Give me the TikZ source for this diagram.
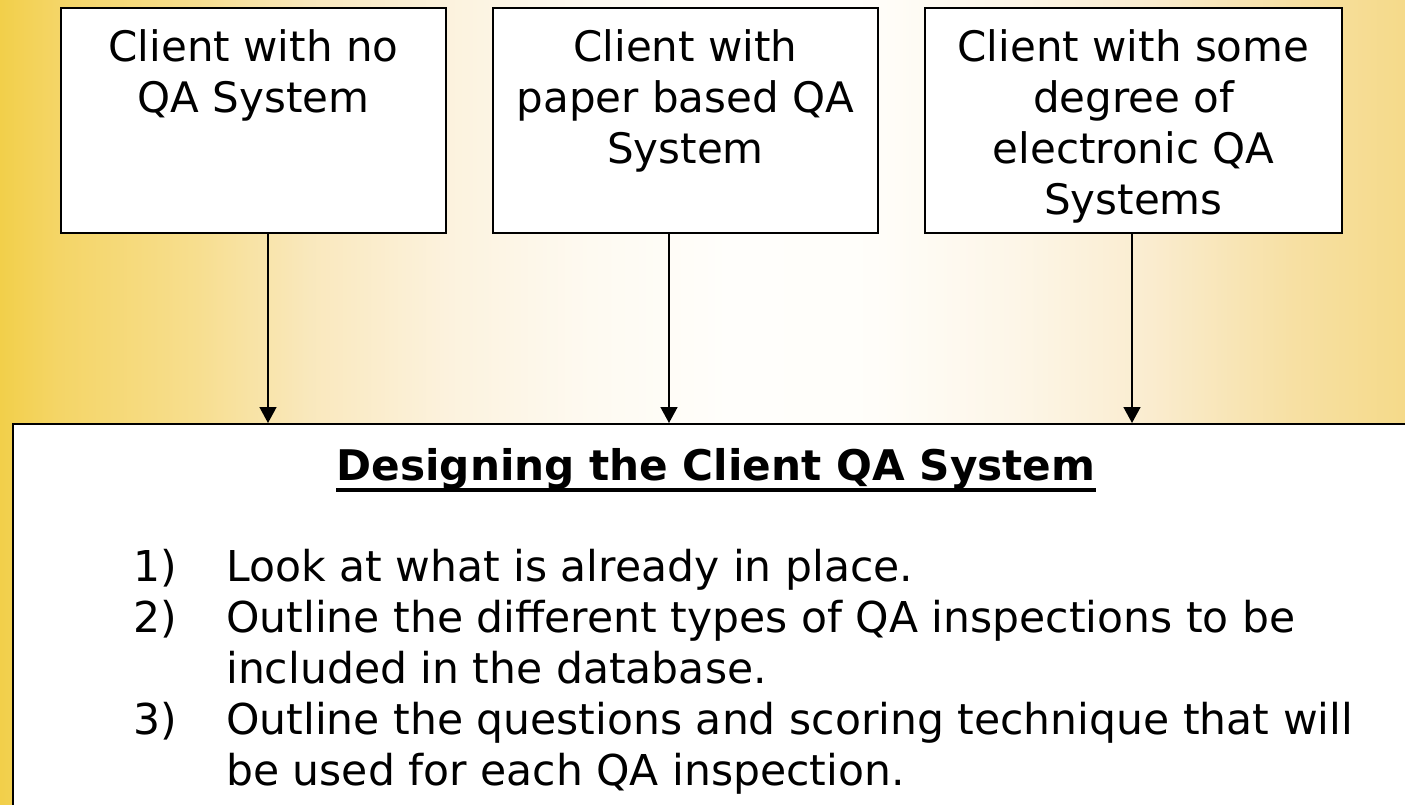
\documentclass[tikz,border=0pt]{standalone}
\usepackage{fontspec}
\setmainfont{DejaVu Sans}
\usetikzlibrary{arrows.meta}
\pgfdeclarehorizontalshading{bgshade}{100bp}{
  rgb(0bp)=(0.949,0.812,0.290);
  rgb(25bp)=(0.949,0.812,0.290);
  rgb(27bp)=(0.957,0.835,0.400);
  rgb(32bp)=(0.969,0.871,0.560);
  rgb(36bp)=(0.978,0.910,0.740);
  rgb(41bp)=(0.988,0.950,0.870);
  rgb(46bp)=(0.996,0.980,0.945);
  rgb(51bp)=(1,0.996,0.985);
  rgb(56bp)=(1,0.994,0.978);
  rgb(61bp)=(0.992,0.965,0.910);
  rgb(66bp)=(0.980,0.925,0.810);
  rgb(71bp)=(0.968,0.878,0.640);
  rgb(75bp)=(0.961,0.855,0.540);
  rgb(100bp)=(0.961,0.855,0.540)}
\tikzset{
  x=1pt,y=-1pt,
  box/.style={draw=black, line width=2pt, fill=white, inner sep=0pt, anchor=north west},
  boxtext/.style={anchor=north, align=center, font=\fontsize{42}{51}\selectfont, inner sep=0pt},
  bodytext/.style={anchor=base west, inner sep=0pt, font=\fontsize{42.5}{51}\selectfont},
  conn/.style={-{Triangle[width=17pt,length=16pt]}, line width=1.5pt},
}
\begin{document}
\begin{tikzpicture}
\useasboundingbox (0,0) rectangle (1405,804);
\shade[shading=bgshade] (0,0) rectangle (1405,804);
% top boxes
\node[box, minimum width=385pt, minimum height=225pt] (b1) at (60,7) {};
\node[box, minimum width=385pt, minimum height=225pt] (b2) at (492,7) {};
\node[box, minimum width=417pt, minimum height=225pt] (b3) at (924,7) {};
\node[boxtext] (t1) at ([yshift=-22pt]b1.north) {Client with no\\QA System};
\node[boxtext] (t2) at ([yshift=-22pt]b2.north) {Client with\\paper based QA\\System};
\node[boxtext] (t3) at ([yshift=-22pt]b3.north) {Client with some\\degree of\\electronic QA\\Systems};
% bottom box
\node[box, minimum width=1420pt, minimum height=400pt] (main) at (12,423) {};
\coordinate (m1) at (268,423);
\coordinate (m2) at (669,423);
\coordinate (m3) at (1132,423);
\draw[conn] (b1.south -| m1) -- (m1);
\draw[conn] (b2.south -| m2) -- (m2);
\draw[conn] (b3.south -| m3) -- (m3);
\node[anchor=base, inner sep=0pt, font=\fontsize{42.2}{50}\selectfont\bfseries] (title) at (716,480) {Designing the Client QA System};
\draw[line width=3.5pt] ([yshift=-10pt]title.base west) -- ([yshift=-10pt]title.base east);
\node[bodytext] (n1) at (133,581) {1)};
\node[bodytext] (l1) at (226,581) {Look at what is already in place.};
\node[bodytext] (n2) at (133,632) {2)};
\node[bodytext] (l2) at (226,632) {Outline the different types of QA inspections to be};
\node[bodytext] (l2b) at (226,683) {included in the database.};
\node[bodytext] (n3) at (133,734) {3)};
\node[bodytext] (l3) at (226,734) {Outline the questions and scoring technique that will};
\node[bodytext] (l3b) at (226,785) {be used for each QA inspection.};
\end{tikzpicture}
\end{document}
